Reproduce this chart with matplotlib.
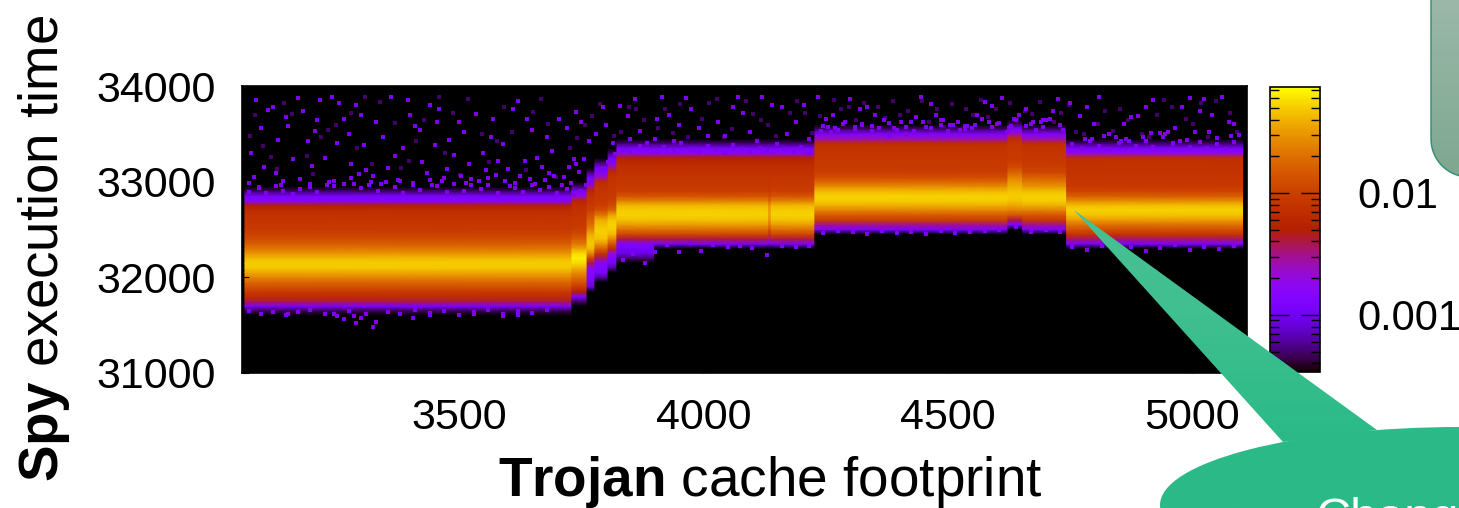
import numpy as np
import matplotlib
matplotlib.use('Agg')
import matplotlib.pyplot as plt
from matplotlib.colors import LogNorm, LinearSegmentedColormap
from matplotlib.cm import ScalarMappable
from matplotlib.patches import Ellipse, Polygon
from matplotlib.ticker import FixedLocator, NullFormatter

plt.rcParams['font.family'] = ['Liberation Sans', 'DejaVu Sans']
plt.rcParams['mathtext.fontset'] = 'custom'
plt.rcParams['mathtext.rm'] = 'Liberation Sans'
plt.rcParams['mathtext.bf'] = 'Liberation Sans:bold'

# density profiles (units of 0.001), one list per stretch of x,
# each one starts at its start_y and goes up in steps of 50
a_start = 31650
a_vals = [.45, 1.2, 4, 7, 9, 13, 18, 26, 36, 48, 50, 42, 30, 22, 16, 12.5, 10.5, 9, 8.5, 8, 7.5, 7, 5, 1.5, 1.2, .5]
c_start = 31750
c_vals = [.5, 1.3, 5, 9, 14, 20, 28, 40, 56, 66, 56, 36, 22, 16, 12, 10, 9, 8.5, 8, 7.5, 7, 6, 2, 1.3, .5]
d_start = 31900
d_vals = [.8, 1.2, 1.3, 1.5, 1.8, 4, 11, 25, 42, 48, 45, 38, 26, 20, 16, 13, 10, 9, 8, 7.5, 6, 3, 1.3, 1.1, .5]
e_start = 32000
e_vals = [.6, 1.2, 1.3, 1.5, 3.5, 8, 16, 30, 45, 50, 50, 45, 38, 22, 13, 10, 9, 8.5, 8, 7.5, 6.5, 2.5, 1.3, 1.1, .5]
f_start = 32100
f_vals = [.6, 1.2, 1.3, 2, 7, 14, 26, 42, 50, 52, 48, 36, 18, 12, 10, 9, 8.5, 8, 8, 7.5, 6.5, 3, 1.3, 1.1, .5]
g_start = 32200
g_vals = [.5, .9, 1.1, 1.3, 4, 11, 20, 32, 45, 52, 50, 42, 24, 14, 10, 9, 8.5, 8, 7.5, 7, 6.5, 5, 1.6, 1.2, .5]
h_start = 32350
h_vals = [1.2, 4, 11, 20, 32, 45, 52, 50, 42, 24, 14, 10, 9, 8.5, 8, 7.5, 7, 6.5, 5, 1.6, 1.2, .5]
t_vals = [1.2, 3, 8, 14, 22, 30, 34, 34, 30, 18, 12, 9, 8.5, 8, 8, 7.5, 7, 6.5, 5, 1.6, 1.2, .5]
i_start = 32500
i_vals = [1.2, 3, 10, 15, 25, 38, 50, 52, 42, 28, 18, 12, 10, 9, 9, 8.5, 8, 8, 7, 2.5, 1.3, .5]
j_start = 32550
j_vals = [1.3, 4, 14, 24, 36, 46, 50, 46, 38, 32, 24, 17, 12, 10, 9, 9, 8.5, 8, 7, 2.5, 1.3, .5]
k_start = 32500
k_vals = [1.2, 3, 9, 14, 24, 38, 50, 52, 44, 30, 22, 16, 11, 10, 9, 8.5, 8, 8, 7, 2.5, 1.3, .5]
m_start = 32350
m_vals = [1.2, 3.5, 8, 13, 20, 32, 45, 52, 45, 28, 16, 11, 9, 8.5, 8, 8, 7.5, 7.5, 7, 1.8, 1.2, .5]

seg_edges = [3062, 3711, 3731, 3762, 3778, 3805, 3823, 3900, 4133, 4139, 4228, 4623, 4653, 4743, 5103]
seg_starts = [a_start, a_start, c_start, d_start, e_start, f_start, g_start, h_start, h_start, h_start,
              i_start, j_start, k_start, m_start]
seg_vals = [a_vals, a_vals, c_vals, d_vals, e_vals, f_vals, g_vals, h_vals, t_vals, h_vals,
            i_vals, j_vals, k_vals, m_vals]

row_y = list(range(31000, 34050, 50))
floor_level = 0.34

# single purple cells scattered above and below the band
speck_x = [3085, 3120, 3170, 3210, 3255, 3300, 3360, 3410, 3460, 3510, 3570, 3620, 3680, 3740, 3800, 3860, 3930, 3990,
           3095, 3145, 3190, 3240, 3275, 3330, 3385, 3440, 3480, 3535, 3590, 3650, 3705, 3765, 3830, 3900, 3965, 4030,
           3075, 3130, 3180, 3225, 3290, 3345, 3400, 3425, 3500, 3550, 3610, 3660, 3720, 3780, 3845, 3885, 3950, 4010,
           3100, 3160, 3205, 3265, 3310, 3370, 3395, 3450, 3520, 3565, 3600, 3640, 3690, 3735, 3795, 3870, 3940, 4060,
           3080, 3125, 3200, 3250, 3320, 3355, 3420, 3470, 3490, 3540, 3580, 3625, 3670, 3715, 3750, 3815, 3905, 3975,
           3110, 3150, 3215, 3280, 3305, 3375, 3435, 3455, 3505, 3555, 3595, 3635, 3675, 3725, 3745, 3850, 3915, 4045,
           3070, 3140, 3195, 3235, 3295, 3340, 3380, 3445, 3475, 3525, 3575, 3615, 3655, 3695, 3730, 3755,
           3090, 3135, 3175, 3245, 3285, 3325, 3405, 3465, 3515, 3560, 3605, 3645, 3685, 3710, 3740, 3760,
           4080, 4120, 4170, 4205, 4250, 4300, 4350, 4395, 4445, 4490, 4540, 4590, 4635, 4680, 4725, 4770, 4810, 4860,
           4905, 4950, 4995, 5040, 5085, 4095, 4140, 4190, 4235, 4270, 4320, 4370, 4415, 4465, 4510, 4560, 4610, 4660,
           4700, 4735, 4785, 4830, 4875, 4920, 4965, 5015, 5060, 4070, 4110, 4160, 4215, 4260, 4310, 4335, 4380, 4425,
           4475, 4525, 4575, 4620, 4670, 4715, 4750, 4800, 4845, 4890, 4935, 4980, 5025, 5075, 4245, 4285, 4345, 4405,
           4455, 4505, 4550, 4600, 4645, 4690, 4730, 4265, 4325, 4390, 4435, 4485, 4535, 4585, 4630, 4695,
           4780, 4820, 4870, 4915, 4960, 5005, 5050, 5095, 4795, 4855, 4900, 4945, 4990, 5035, 5080,
           3245, 3265, 3285, 3310, 3590, 3405, 3150, 3325, 3290, 3440, 3530, 3620]
speck_y = [33850, 33780, 33870, 33640, 33820, 33700, 33880, 33580, 33760, 33520, 33660, 33840, 33470, 33730, 33590, 33860, 33700, 33560,
           33560, 33680, 33430, 33880, 33500, 33620, 33350, 33800, 33440, 33710, 33390, 33540, 33660, 33420, 33790, 33450, 33870, 33620,
           33300, 33440, 33740, 33250, 33800, 33470, 33700, 33210, 33620, 33300, 33760, 33250, 33560, 33500, 33690, 33400, 33590, 33480,
           33150, 33240, 33530, 33660, 33120, 33270, 33850, 33380, 33180, 33470, 33130, 33650, 33320, 33240, 33780, 33530, 33430, 33780,
           33050, 33090, 33160, 33400, 33000, 33140, 33540, 33040, 33280, 33010, 33220, 33060, 33150, 33050, 33620, 33400, 33650, 33760,
           33750, 33580, 33850, 33180, 33380, 33020, 33090, 33620, 33060, 33120, 33010, 33220, 33020, 33150, 33100, 33450, 33880, 33480,
           32990, 33010, 32980, 33000, 33080, 32980, 33010, 32970, 33130, 32960, 33070, 32990, 32980, 33060, 32990, 33240,
           32940, 32960, 33030, 32950, 32980, 33060, 32960, 33010, 32990, 33040, 32950, 33030, 33090, 32960, 33180, 32960,
           33720, 33880, 33500, 33800, 33650, 33860, 33700, 33540, 33880, 33640, 33580, 33790, 33650, 33540, 33860, 33690, 33880, 33600,
           33780, 33520, 33870, 33700, 33600, 33520, 33800, 33620, 33880, 33560, 33760, 33640, 33500, 33810, 33590, 33700, 33870, 33760,
           33640, 33540, 33780, 33500, 33680, 33850, 33560, 33740, 33880, 33880, 33420, 33780, 33450, 33520, 33570, 33780, 33480, 33620,
           33700, 33540, 33830, 33520, 33600, 33740, 33820, 33600, 33470, 33690, 33510, 33780, 33860, 33620, 33580, 33600, 33580, 33620,
           33570, 33590, 33560, 33600, 33700, 33620, 33590, 33700, 33590, 33560, 33680, 33640, 33580, 33620, 33580, 33640,
           33450, 33480, 33430, 33510, 33400, 33520, 33460, 33490, 33450, 33430, 33470, 33500, 33440, 33520, 33480,
           31620, 31560, 31600, 31620, 31600, 31570, 31620, 31480, 31520, 31610, 31620, 31610]
speck_color = '#8000f0'

# darker cells, fainter than the ones above
dim_x = [3072, 3115, 3158, 3202, 3248, 3292, 3338, 3382, 3428, 3472, 3518, 3562, 3608, 3652, 3698, 3742, 3788, 3832, 3878, 3922,
         3968, 4012, 4058, 4102, 4148, 4192, 4238, 4282, 4328, 4372, 4418, 4462, 4508, 4552, 4598, 4642, 4688, 4732, 4778, 4822,
         4868, 4912, 4958, 5002, 5048, 5092, 3098, 3142, 3188, 3232, 3278, 3322, 3368, 3412, 3458, 3502, 3548, 3592, 3638, 3682,
         3728, 3772, 3818, 3862, 3908, 3952, 3998, 4042, 4088, 4132, 4178, 4222, 4268, 4312, 4358, 4402, 4448, 4492, 4538, 4582,
         4628, 4672, 4718, 4762, 4808, 4852, 4898, 4942, 4988, 5032, 5078, 3082, 3128, 3218, 3308, 3398, 3488, 3578, 3668, 3758,
         3848, 3938, 4028, 4118, 4208, 4298, 4388, 4478, 4568, 4658, 4748, 4838, 4928, 5018]
dim_y = [33480, 33260, 33710, 33080, 33590, 33350, 33830, 33140, 33640, 33300, 33860, 33210, 33520, 33730, 33050, 33460, 33810, 33520, 33640, 33760,
         33470, 33820, 33550, 33710, 33480, 33840, 33690, 33760, 33820, 33670, 33740, 33620, 33810, 33700, 33760, 33650, 33830, 33720, 33500, 33740,
         33640, 33470, 33780, 33600, 33840, 33520, 33370, 33820, 33270, 33540, 33720, 33180, 33610, 33430, 33880, 33070, 33500, 33780, 33120, 33600,
         33350, 33690, 33480, 33760, 33560, 33810, 33650, 33470, 33840, 33590, 33720, 33510, 33850, 33640, 33780, 33700, 33840, 33570, 33760, 33680,
         33820, 33710, 33620, 33520, 33600, 33760, 33500, 33850, 33660, 33470, 33720, 33700, 33130, 33470, 33880, 33220, 33720, 33430, 33860, 33590,
         33780, 33510, 33860, 33640, 33720, 33780, 33840, 33760, 33850, 33740, 33800, 33530, 33700, 33820]
dim_color = '#43006a'

# rough outline of the band, top side then bottom side
edge_x = [3070, 3090, 3105, 3125, 3140, 3160, 3175, 3195, 3210, 3230, 3245, 3265, 3280, 3300, 3315, 3335, 3350, 3370, 3385, 3405,
          3420, 3440, 3455, 3475, 3490, 3510, 3525, 3545, 3560, 3580, 3595, 3615, 3630, 3650, 3665, 3685, 3700, 3720, 3735, 3750,
          3790, 3805, 3820, 3835, 3850, 3870, 3885, 3905, 3920, 3940, 3955, 3975, 3990, 4010, 4025, 4045, 4060, 4080, 4095, 4115,
          4130, 4150, 4165, 4185, 4200, 4215, 4240, 4255, 4275, 4290, 4310, 4325, 4345, 4360, 4380, 4395, 4415, 4430, 4450, 4465,
          4485, 4500, 4520, 4535, 4555, 4570, 4590, 4605, 4625, 4640, 4660, 4675, 4695, 4710, 4730, 4755, 4775, 4790, 4810, 4830,
          4850, 4865, 4885, 4905, 4920, 4940, 4960, 4975, 4995, 5015, 5030, 5050, 5070, 5085,
          3070, 3095, 3120, 3145, 3170, 3195, 3225, 3250, 3275, 3300, 3330, 3355, 3380, 3410, 3440, 3470, 3500, 3530, 3560, 3590,
          3620, 3650, 3680, 3835, 3855, 3880, 3900, 3925, 3950, 3975, 3995, 4020, 4050, 4075, 4100, 4130, 4160, 4190, 4215,
          4245, 4275, 4305, 4335, 4365, 4395, 4425, 4455, 4485, 4515, 4545, 4575, 4605, 4640, 4670, 4700, 4730,
          4755, 4785, 4815, 4845, 4875, 4905, 4935, 4965, 4995, 5025, 5055, 5085]
edge_y = [32890, 32930, 32880, 32950, 32900, 32870, 32920, 32940, 32890, 32960, 33010, 32980, 33040, 32930, 32970, 32900, 33000, 32940, 32880, 32990,
          32910, 33020, 32950, 32890, 32980, 32900, 33030, 32920, 32960, 32880, 33010, 32930, 32890, 32970, 32910, 32940, 32880, 32920, 32860, 32900,
          33130, 33210, 33290, 33330, 33310, 33370, 33340, 33310, 33360, 33320, 33400, 33340, 33310, 33370, 33330, 33300, 33380, 33340, 33310, 33350,
          33320, 33390, 33340, 33310, 33360, 33300, 33530, 33570, 33540, 33620, 33550, 33600, 33530, 33560, 33610, 33540, 33570, 33530, 33620, 33560,
          33590, 33530, 33620, 33550, 33590, 33660, 33570, 33610, 33560, 33640, 33580, 33620, 33570, 33650, 33590, 33390, 33350, 33420, 33370, 33340,
          33400, 33450, 33370, 33420, 33360, 33470, 33390, 33430, 33360, 33410, 33350, 33390, 33340, 33410,
          31650, 31620, 31640, 31610, 31640, 31660, 31620, 31600, 31650, 31570, 31530, 31640, 31620, 31660, 31630, 31650, 31610, 31640, 31660, 31620,
          31650, 31630, 31660, 32180, 32240, 32150, 32260, 32340, 32270, 32360, 32280, 32340, 32320, 32330, 32310, 32230, 32330, 32320, 32330,
          32460, 32480, 32470, 32450, 32480, 32460, 32470, 32450, 32480, 32460, 32470, 32480, 32490, 32530, 32470, 32500, 32470,
          32320, 32290, 32330, 32300, 32320, 32280, 32310, 32340, 32290, 32320, 32300, 32330]

xticks = [3500, 4000, 4500, 5000]
yticks = [31000, 32000, 33000, 34000]
cbar_major = [0.001, 0.01]
cbar_major_labels = ['0.001', '0.01']
cbar_minor = [0.0004, 0.0005, 0.0006, 0.0007, 0.0008, 0.0009, 0.002, 0.003, 0.004, 0.005, 0.006, 0.007, 0.008, 0.009,
              0.02, 0.03, 0.04, 0.05, 0.06, 0.07]

W, H = 1459, 508
fig = plt.figure(figsize=(W / 100, H / 100), dpi=100)
ax = fig.add_axes([242 / W, 1 - 373 / H, (1247 - 242) / W, (373 - 86) / H], facecolor='black')
norm = LogNorm(3.4e-4, 7.4e-2)
cmap = plt.get_cmap('gnuplot')

for i in range(len(seg_vals)):
    col = np.full(len(row_y), floor_level)
    for j, y in enumerate(row_y):
        if seg_starts[i] <= y < seg_starts[i] + 50 * len(seg_vals[i]):
            col[j] = seg_vals[i][(y - seg_starts[i]) // 50]
    z = np.column_stack([col, col]) * 1e-3
    ax.pcolormesh([seg_edges[i], seg_edges[i + 1]], row_y, z, shading='gouraud', norm=norm, cmap=cmap, rasterized=True)

ax.scatter(dim_x, dim_y, s=6, marker='s', color=dim_color, linewidths=0, zorder=2)
ax.scatter(speck_x, speck_y, s=5, marker='s', color=speck_color, linewidths=0, zorder=3)
ax.scatter(edge_x, edge_y, s=12, marker='s', color=speck_color, linewidths=0, zorder=3)

ax.set_xlim(3056, 5112)
ax.set_ylim(31000, 34000)
ax.set_xticks(xticks)
ax.set_yticks(yticks)
ax.tick_params(axis='both', direction='in', length=5, color='black', labelsize=31, pad=18)
ax.tick_params(axis='y', pad=19)
for s in ax.spines.values():
    s.set_linewidth(1.2)

# colour bar
cax = fig.add_axes([1270 / W, 1 - 372 / H, 50 / W, (372 - 87) / H])
cb = fig.colorbar(ScalarMappable(norm=norm, cmap=cmap), cax=cax)
cb.set_ticks(cbar_major, labels=cbar_major_labels)
cax.yaxis.set_minor_locator(FixedLocator(cbar_minor))
cax.yaxis.set_minor_formatter(NullFormatter())
cax.tick_params(which='major', direction='in', length=14, width=1, left=True, right=True, labelsize=30, pad=27)
cax.tick_params(which='minor', direction='in', length=6.5, width=1, left=True, right=True)
cb.outline.set_linewidth(1.2)

fig.text(770 / W, 1 - 496 / H, r'$\mathbf{Trojan}$ cache footprint', fontsize=39.5, ha='center', va='baseline')
fig.text(44 / W, 1 - 248 / H, r'$\mathbf{Spy}$ execution time', fontsize=39.3, rotation=90, ha='center', va='center')

# slide shapes lying over the plot
ov = fig.add_axes([0, 0, 1, 1], zorder=10)
ov.patch.set_visible(False)
ov.axis('off')
ramp = np.linspace(0, 1, 256).reshape(-1, 1)

green = LinearSegmentedColormap.from_list('green', [(0, '#48c094'), (0.4, '#48c094'), (0.62, '#40bf90'), (0.85, '#2bbb88'), (1, '#2bb987')])
for shape in [Polygon([(1074, 210), (1283, 442), (1377, 430)], closed=True, fc='none', ec='none'),
              Ellipse((1460, 505), 600, 156, fc='none', ec='none')]:
    ov.add_patch(shape)
    im = ov.imshow(ramp, cmap=green, extent=(0, W, H, 0), aspect='auto', interpolation='bilinear', vmin=0, vmax=1)
    im.set_clip_path(shape)

# grey box, only its lower left corner is inside the picture
ang = np.linspace(np.pi, np.pi / 2, 24)
corner = np.column_stack([1469 + 38 * np.cos(ang), 139 + 38 * np.sin(ang)])
outline = np.vstack([[(1431, -10)], corner, [(1480, 177), (1480, -10)]])
grey = LinearSegmentedColormap.from_list('grey', ['#9cb8a9', '#7ca78f'])
box = Polygon(outline, closed=True, fc='none', ec='#2f8c72', lw=1, zorder=3)
ov.add_patch(box)
im2 = ov.imshow(ramp, cmap=grey, extent=(1425, W + 5, 185, -5), aspect='auto', interpolation='bilinear', vmin=0, vmax=1)
im2.set_clip_path(box)

ov.set_xlim(0, W)
ov.set_ylim(H, 0)
ov.text(1316, 532, 'Change', color='white', fontsize=35, ha='left', va='baseline', clip_on=True)

fig.savefig('out.png', dpi=100)
